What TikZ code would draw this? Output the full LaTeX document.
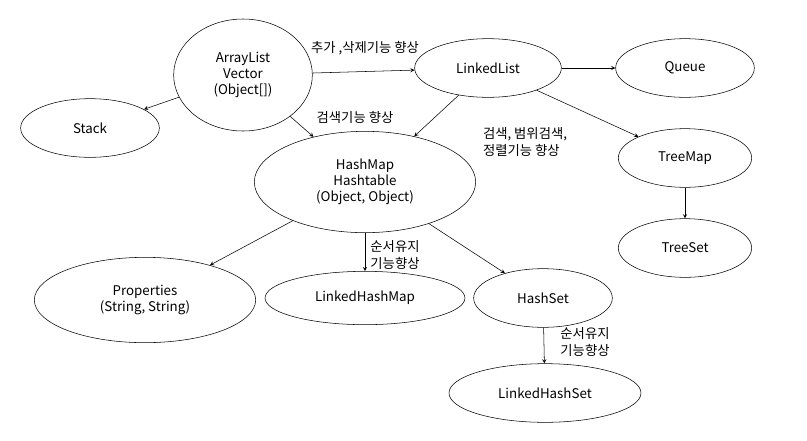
\documentclass[tikz,border=0pt]{standalone}
\usepackage{fontspec}
\setmainfont{Noto Sans CJK KR}
\usetikzlibrary{shapes.geometric}

\begin{document}
\begin{tikzpicture}
		[x=0.75pt, y=-0.75pt, font=\fontsize{10}{12}\selectfont,
		cls/.style={ellipse, draw=black, inner sep=0pt, align=center},
		note/.style={align=left, font=\fontsize{10}{13}\selectfont},
		every path/.style={->, >=stealth}]
		\useasboundingbox (0,0) rectangle (807,440);
		\node[cls, minimum width=104, minimum height=84] (arr) at (243,75) {ArrayList\\Vector\\(Object[])};
		\node[cls, minimum width=110, minimum height=44] (ll) at (488,68) {LinkedList};
		\node[cls, minimum width=104, minimum height=44] (q) at (685,68) {Queue};
		\node[cls, minimum width=104, minimum height=44] (st) at (90,128) {Stack};
		\node[cls, minimum width=166, minimum height=76] (hm) at (365,182) {HashMap\\Hashtable\\(Object, Object)};
		\node[cls, minimum width=100, minimum height=44] (tm) at (685,158) {TreeMap};
		\node[cls, minimum width=100, minimum height=44] (ts) at (685,248) {TreeSet};
		\node[cls, minimum width=166, minimum height=64] (pr) at (145,300) {Properties\\(String, String)};
		\node[cls, minimum width=150, minimum height=40] (lhm) at (365,298) {LinkedHashMap};
		\node[cls, minimum width=104, minimum height=44] (hs) at (543,298) {HashSet};
		\node[cls, minimum width=144, minimum height=44] (lhs) at (545,393) {LinkedHashSet};

		\node[note] (n1) at (365,48) {추가 ,삭제기능 향상};
		\node[note] (n2) at (355,117) {검색기능 향상};
		\node[note] (n3) at (525,142) {검색, 범위검색,\\정렬기능 향상};
		\node[note] (n4) at (395,255) {순서유지\\기능향상};
		\node[note] (n5) at (585,342) {순서유지\\기능향상};

		\draw (arr) -- (ll);
		\draw (arr) -- (st);
		\draw (arr) -- (hm);
		\draw (ll) -- (q);
		\draw (ll) -- (hm);
		\draw (ll) -- (tm);
		\draw (tm) -- (ts);
		\draw (hm) -- (pr);
		\draw (hm) -- (lhm);
		\draw (hm) -- (hs);
		\draw (hs) -- (lhs);
	\end{tikzpicture}
\end{document}
